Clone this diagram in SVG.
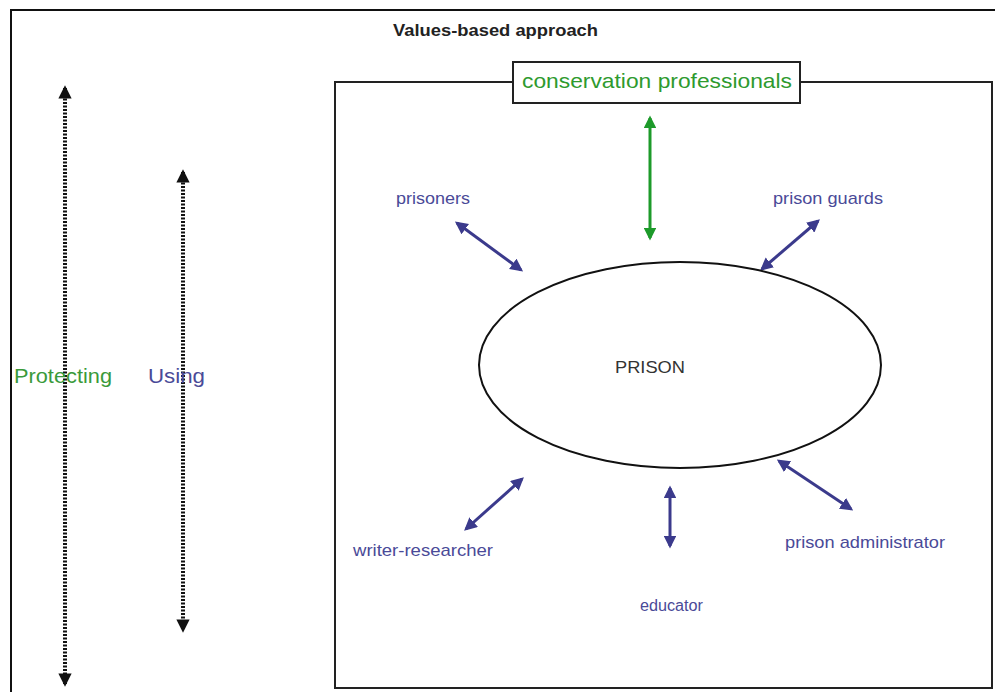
<svg xmlns="http://www.w3.org/2000/svg" width="995" height="692" viewBox="0 0 995 692">
<style>
text{font-family:"Liberation Sans",Arial,sans-serif}
.lbl{font-size:17px;fill:#4a4a98}
.blue{stroke:#3b3a8c;stroke-width:3;fill:none;marker-start:url(#hb);marker-end:url(#hb)}
.dot{stroke:#111;stroke-width:4;stroke-dasharray:2 1.5;fill:none;marker-start:url(#hk);marker-end:url(#hk)}
</style>
<defs>
<marker id="hb" viewBox="0 0 10 10" refX="8" refY="5" markerWidth="4.3" markerHeight="4.3" orient="auto-start-reverse"><path d="M0,0 L10,5 L0,10 z" fill="#3b3a8c"/></marker>
<marker id="hg" viewBox="0 0 10 10" refX="8" refY="5" markerWidth="4.3" markerHeight="4.3" orient="auto-start-reverse"><path d="M0,0 L10,5 L0,10 z" fill="#1d9a2a"/></marker>
<marker id="hk" viewBox="0 0 10 10" refX="8" refY="5" markerWidth="3.3" markerHeight="3.3" orient="auto-start-reverse"><path d="M0,0 L10,5 L0,10 z" fill="#111"/></marker>
</defs>
<rect width="995" height="692" fill="#fff"/>
<path d="M11,692 V10 H995" fill="none" stroke="#111" stroke-width="2"/>
<rect x="335" y="82" width="657" height="606" fill="none" stroke="#222" stroke-width="2"/>
<text x="393" y="36" font-size="17" font-weight="bold" fill="#222" textLength="205" lengthAdjust="spacingAndGlyphs">Values-based approach</text>
<g id="connectors">
<line class="dot" x1="65" y1="88" x2="65" y2="684"/>
<line class="dot" x1="183" y1="172" x2="183" y2="630"/>
<line x1="650" y1="118" x2="650" y2="238" stroke="#1d9a2a" stroke-width="3" marker-start="url(#hg)" marker-end="url(#hg)"/>
<line class="blue" x1="457" y1="223" x2="521" y2="270"/>
<line class="blue" x1="818" y1="221" x2="762" y2="269"/>
<line class="blue" x1="522" y1="479" x2="466" y2="529"/>
<line class="blue" x1="670" y1="488" x2="670" y2="546"/>
<line class="blue" x1="779" y1="461" x2="851" y2="509"/>
</g>
<g id="protecting"><text x="14" y="383" font-size="20" fill="#3a9a3a" textLength="98" lengthAdjust="spacingAndGlyphs">Protecting</text></g>
<g id="using"><text x="148" y="383" font-size="20" fill="#4a4a98" textLength="57" lengthAdjust="spacingAndGlyphs">Using</text></g>
<g id="conservation">
<rect x="513" y="62" width="287" height="41" fill="#fff" stroke="#222" stroke-width="2"/>
<text x="522" y="88" font-size="21" fill="#2e9a2e" textLength="270" lengthAdjust="spacingAndGlyphs">conservation professionals</text>
</g>
<g id="prison">
<ellipse cx="680" cy="365" rx="201" ry="103" fill="#fff" stroke="#111" stroke-width="2"/>
<text x="615" y="373" font-size="17" fill="#333" textLength="70" lengthAdjust="spacingAndGlyphs">PRISON</text>
</g>
<g id="prisoners"><text class="lbl" x="396" y="204" textLength="74" lengthAdjust="spacingAndGlyphs">prisoners</text></g>
<g id="guards"><text class="lbl" x="773" y="204" textLength="110" lengthAdjust="spacingAndGlyphs">prison guards</text></g>
<g id="writer"><text class="lbl" x="353" y="556" textLength="140" lengthAdjust="spacingAndGlyphs">writer-researcher</text></g>
<g id="educator"><text class="lbl" x="640" y="611" font-size="16" style="font-size:16px" textLength="63" lengthAdjust="spacingAndGlyphs">educator</text></g>
<g id="admin"><text class="lbl" x="785" y="548" textLength="160" lengthAdjust="spacingAndGlyphs">prison administrator</text></g>
</svg>
